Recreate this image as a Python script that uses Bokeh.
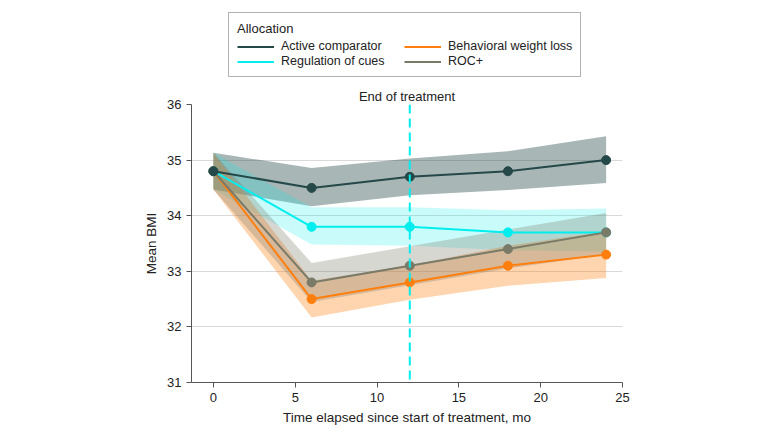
from bokeh.plotting import figure
from bokeh.layouts import column
from bokeh.models import Legend, LegendItem, Span
from bokeh.embed import file_html
from bokeh.resources import INLINE

months = [0, 6, 12, 18, 24]

ac_mean = [34.8, 34.5, 34.7, 34.8, 35.0]
ac_lo = [34.47, 34.17, 34.37, 34.46, 34.59]
ac_hi = [35.13, 34.86, 35.03, 35.16, 35.43]

cues_mean = [34.8, 33.8, 33.8, 33.7, 33.7]
cues_lo = [34.47, 33.48, 33.46, 33.38, 33.35]
cues_hi = [35.13, 34.15, 34.15, 34.10, 34.13]

bwl_mean = [34.8, 32.5, 32.8, 33.1, 33.3]
bwl_lo = [34.47, 32.17, 32.49, 32.74, 32.88]
bwl_hi = [35.13, 32.83, 33.11, 33.46, 33.72]

roc_mean = [34.8, 32.8, 33.1, 33.4, 33.7]
roc_lo = [34.47, 32.45, 32.75, 33.05, 33.30]
roc_hi = [35.13, 33.15, 33.45, 33.75, 34.05]

series = [
    ("Active comparator", ac_mean, ac_lo, ac_hi, "#254848", 0.40),
    ("Regulation of cues", cues_mean, cues_lo, cues_hi, "#00eeee", 0.21),
    ("Behavioral weight loss", bwl_mean, bwl_lo, bwl_hi, "#ff7f0e", 0.33),
    ("ROC+", roc_mean, roc_lo, roc_hi, "#7a7a68", 0.30),
]
draw_order = [2, 1, 3, 0]

FONT = "Liberation Sans"
W = 780
BL, BR = 191, W - 622

# ---- legend figure ----
LH = 84
pl = figure(width=W, height=LH, output_backend="svg", toolbar_location=None,
            x_axis_location=None, y_axis_location=None,
            min_border_left=BL, min_border_right=BR,
            min_border_top=0, min_border_bottom=0,
            x_range=(0, 1), y_range=(0, 1))
pl.grid.visible = False
pl.outline_line_color = None
items = []
for name, m, lo, hi, col, a in series:
    r = pl.line([10, 11], [10, 11], line_color=col, line_width=2)
    items.append(LegendItem(label=name, renderers=[r]))
legend = Legend(items=items, ncols=2, title="Allocation",
                title_text_font=FONT, title_text_font_size="13px",
                title_text_font_style="normal", title_text_color="#222222",
                title_standoff=3,
                label_text_font=FONT, label_text_font_size="12.5px",
                label_text_color="#222222",
                border_line_color="#666666", border_line_width=1,
                glyph_width=37, glyph_height=13, label_standoff=7,
                label_width=122, spacing=1, padding=8, margin=0,
                location=(228 - BL, LH - 77))
pl.add_layout(legend, "center")

# ---- main figure ----
MH = 436 - LH
p = figure(width=W, height=MH, x_range=(-1.34, 25), y_range=(31, 36),
           output_backend="svg", toolbar_location=None,
           title="End of treatment",
           min_border_left=BL, min_border_right=BR,
           min_border_top=104 - LH, min_border_bottom=MH - (382 - LH))
p.title.text_font = FONT
p.title.text_font_size = "13px"
p.title.text_font_style = "normal"
p.title.text_color = "#222222"
p.title.align = "center"
p.title.offset = 3
p.title.standoff = 1
p.outline_line_color = None
p.xgrid.grid_line_color = None
p.ygrid.grid_line_color = "#d9d9d9"
p.ygrid.grid_line_width = 1

for ax in (p.xaxis, p.yaxis):
    ax.axis_line_color = "#555555"
    ax.major_tick_line_color = "#555555"
    ax.minor_tick_line_color = None
    ax.major_tick_out = 5
    ax.major_tick_in = 0
    ax.major_label_text_font = FONT
    ax.major_label_text_font_size = "13px"
    ax.major_label_text_color = "#222222"
    ax.axis_label_text_font = FONT
    ax.axis_label_text_font_size = "13.5px"
    ax.axis_label_text_font_style = "normal"
    ax.axis_label_text_color = "#222222"

p.xaxis.ticker = [0, 5, 10, 15, 20, 25]
p.yaxis.ticker = [31, 32, 33, 34, 35, 36]
p.xaxis.axis_label = "Time elapsed since start of treatment, mo"
p.yaxis.axis_label = "Mean BMI"

for name, m, lo, hi, col, a in series:
    p.varea(x=months, y1=lo, y2=hi, fill_color=col, fill_alpha=a)

span = Span(location=12, dimension="height", line_color="#00eeee",
            line_width=2, line_dash="9 5")
p.add_layout(span)

for i in draw_order:
    name, m, lo, hi, col, a = series[i]
    p.line(months, m, line_color=col, line_width=2)
    p.scatter(months, m, size=9, fill_color=col, line_color=col)

layout = column(pl, p, spacing=0)
open("out.html", "w").write(file_html(layout, INLINE))
